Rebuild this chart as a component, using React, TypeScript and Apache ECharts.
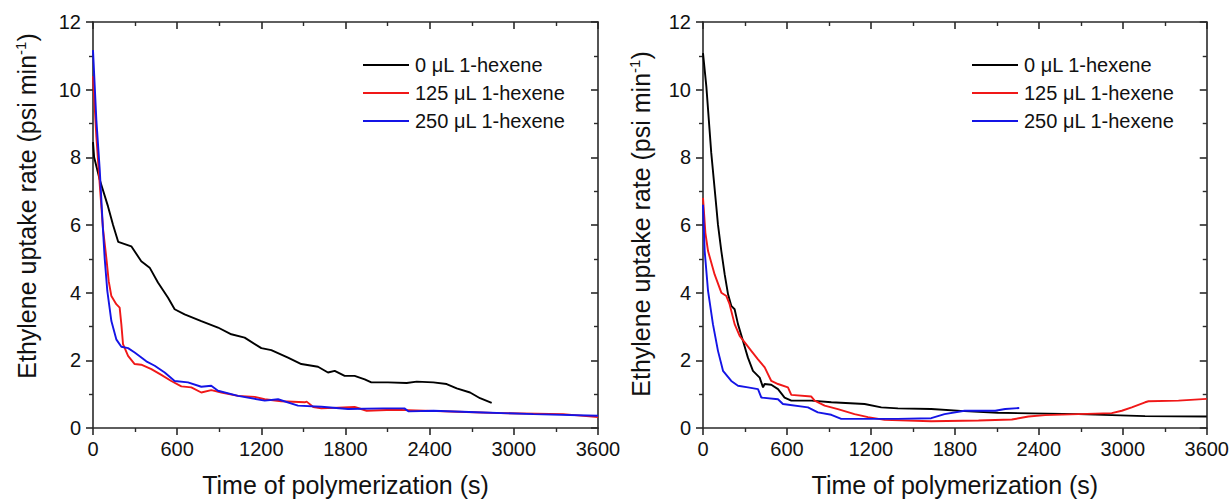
import React, { useEffect, useRef } from "react";
import * as echarts from "echarts";

const xTicks = [0, 600, 1200, 1800, 2400, 3000, 3600];
const yTicks = [0, 2, 4, 6, 8, 10, 12];
const seriesNames = ["0 μL 1-hexene", "125 μL 1-hexene", "250 μL 1-hexene"];
const seriesColors = ["#000000", "#f01818", "#1414e6"];
const xTitle = "Time of polymerization (s)";
const yTitleMain = "Ethylene uptake rate (psi min";
const yTitleSup = "-1";

const leftBlack = [
  [0, 8.45], [8, 8.0], [48, 7.34], [107, 6.55], [143, 6.0], [180, 5.5], [273, 5.37],
  [344, 4.93], [404, 4.74], [463, 4.3], [535, 3.85], [582, 3.51], [653, 3.36], [772, 3.16],
  [891, 2.97], [986, 2.77], [1081, 2.67], [1200, 2.36], [1271, 2.3], [1390, 2.08],
  [1485, 1.89], [1604, 1.81], [1675, 1.64], [1723, 1.69], [1794, 1.54], [1865, 1.54],
  [1937, 1.44], [1984, 1.35], [2103, 1.35], [2236, 1.33], [2308, 1.37], [2426, 1.35],
  [2521, 1.3], [2593, 1.17], [2688, 1.05], [2759, 0.88], [2842, 0.74],
];
const leftRed = [
  [0, 10.4], [24, 8.6], [48, 7.2], [71, 5.9], [95, 5.03], [112, 4.34], [131, 3.9],
  [166, 3.66], [190, 3.56], [202, 3.07], [214, 2.48], [250, 2.13], [297, 1.89], [344, 1.87],
  [416, 1.74], [487, 1.57], [558, 1.39], [630, 1.23], [701, 1.2], [772, 1.05], [843, 1.12],
  [915, 1.05], [1034, 0.95], [1153, 0.92], [1224, 0.85], [1342, 0.79], [1509, 0.76],
  [1523, 0.78], [1570, 0.62], [1628, 0.58], [1865, 0.62], [1951, 0.51], [2141, 0.54],
  [2300, 0.52], [2600, 0.48], [2902, 0.44], [3351, 0.41], [3600, 0.32],
];
const leftBlue = [
  [0, 11.17], [24, 9.1], [48, 7.64], [71, 5.87], [83, 5.03], [102, 4.05], [131, 3.16],
  [166, 2.62], [202, 2.4], [250, 2.36], [297, 2.23], [340, 2.1], [380, 1.97], [440, 1.84],
  [511, 1.64], [582, 1.39], [677, 1.35], [772, 1.22], [843, 1.25], [891, 1.1], [1034, 0.95],
  [1224, 0.81], [1319, 0.85], [1461, 0.66], [1628, 0.63], [1818, 0.56], [2070, 0.58],
  [2220, 0.58], [2250, 0.49], [2426, 0.51], [2783, 0.46], [3140, 0.41], [3600, 0.36],
];
const rightBlack = [
  [0, 11.08], [24, 10.09], [59, 8.13], [95, 6.55], [107, 6.01], [131, 5.23], [155, 4.54],
  [179, 3.95], [202, 3.61], [226, 3.51], [250, 3.07], [286, 2.57], [321, 2.08], [357, 1.69],
  [405, 1.49], [429, 1.2], [440, 1.3], [488, 1.28], [536, 1.15], [583, 0.9], [631, 0.81],
  [774, 0.81], [917, 0.76], [1155, 0.71], [1274, 0.61], [1393, 0.58], [1631, 0.56],
  [1869, 0.5], [2107, 0.45], [2683, 0.41], [3159, 0.35], [3600, 0.34],
];
const rightRed = [
  [0, 6.8], [17, 5.77], [36, 5.23], [83, 4.54], [131, 4.0], [167, 3.9], [190, 3.66],
  [226, 3.07], [262, 2.72], [298, 2.53], [345, 2.28], [393, 2.03], [441, 1.79], [488, 1.39],
  [536, 1.3], [607, 1.2], [631, 0.98], [774, 0.93], [798, 0.81], [869, 0.66], [964, 0.56],
  [1083, 0.41], [1179, 0.32], [1298, 0.24], [1631, 0.2], [1969, 0.22], [2207, 0.25],
  [2326, 0.34], [2445, 0.38], [2683, 0.41], [2921, 0.44], [2993, 0.51], [3064, 0.61],
  [3159, 0.76], [3184, 0.79], [3398, 0.81], [3600, 0.86],
];
const rightBlue = [
  [0, 6.6], [5, 6.0], [12, 5.23], [36, 4.05], [71, 3.07], [107, 2.28], [143, 1.69],
  [202, 1.39], [250, 1.25], [321, 1.2], [393, 1.15], [417, 0.9], [536, 0.85], [571, 0.71],
  [750, 0.61], [821, 0.46], [917, 0.39], [988, 0.27], [1393, 0.27], [1631, 0.29],
  [1726, 0.41], [1869, 0.51], [2088, 0.51], [2160, 0.56], [2260, 0.59],
];

const FONT = "'Liberation Sans', Arial, sans-serif";
const AXIS_COLOR = "#2a2a2a";
const TEXT_COLOR = "#111111";

function axisLine() {
  return { show: true, onZero: false, lineStyle: { color: AXIS_COLOR, width: 1.6 } };
}

function makeX(gridIndex: number, main: boolean) {
  const iv = xTicks[1] - xTicks[0];
  return {
    gridIndex,
    type: "value",
    position: main ? "bottom" : "top",
    min: xTicks[0],
    max: xTicks[xTicks.length - 1],
    interval: iv,
    name: main ? xTitle : "",
    nameLocation: "middle",
    nameGap: 44,
    nameTextStyle: { fontSize: 25, fontFamily: FONT, color: TEXT_COLOR },
    axisLine: axisLine(),
    axisTick: { show: true, inside: !main, length: 7, lineStyle: { color: AXIS_COLOR, width: 1.6 } },
    minorTick: { show: true, splitNumber: 2, length: 4, lineStyle: { color: AXIS_COLOR, width: 1.4 } },
    axisLabel: {
      show: main,
      fontSize: 20,
      margin: 11,
      fontFamily: FONT,
      color: TEXT_COLOR,
      formatter: (v: number) => String(v),
    },
    splitLine: { show: false },
  };
}

function makeY(gridIndex: number, main: boolean) {
  const iv = yTicks[1] - yTicks[0];
  return {
    gridIndex,
    type: "value",
    position: main ? "left" : "right",
    min: yTicks[0],
    max: yTicks[yTicks.length - 1],
    interval: iv,
    axisLine: axisLine(),
    axisTick: { show: true, inside: !main, length: 7, lineStyle: { color: AXIS_COLOR, width: 1.6 } },
    minorTick: { show: true, splitNumber: 2, length: 4, lineStyle: { color: AXIS_COLOR, width: 1.4 } },
    axisLabel: {
      show: main,
      fontSize: 20,
      margin: 12,
      fontFamily: FONT,
      color: TEXT_COLOR,
      formatter: (v: number) => String(v),
    },
    splitLine: { show: false },
  };
}

function makeSeries(data: number[][], idx: number, panel: number) {
  return {
    type: "line",
    name: seriesNames[idx],
    data,
    xAxisIndex: panel * 2,
    yAxisIndex: panel * 2,
    symbol: "none",
    showSymbol: false,
    smooth: false,
    z: 3 + idx,
    lineStyle: { color: seriesColors[idx], width: 1.9 },
    itemStyle: { color: seriesColors[idx] },
  };
}

function makeLegend(left: number) {
  return {
    data: seriesNames.map((n) => ({ name: n, icon: "rect" })),
    orient: "vertical",
    left,
    top: 50,
    itemWidth: 46,
    itemHeight: 2,
    itemGap: 8,
    selectedMode: false,
    textStyle: {
      fontSize: 20,
      lineHeight: 20,
      fontFamily: FONT,
      color: TEXT_COLOR,
      padding: [0, 0, 0, 1],
    },
  };
}

function yTitle(cx: number, cy: number) {
  return {
    type: "text",
    x: cx,
    y: cy,
    rotation: Math.PI / 2,
    style: {
      text: `{a|${yTitleMain}}{s|${yTitleSup}}{a|)}`,
      align: "center",
      verticalAlign: "middle",
      fill: TEXT_COLOR,
      rich: {
        a: { fontSize: 25, fontFamily: FONT, fill: TEXT_COLOR, lineHeight: 28, color: TEXT_COLOR },
        s: { fontSize: 15, fontFamily: FONT, fill: TEXT_COLOR, color: TEXT_COLOR, verticalAlign: "top", lineHeight: 16 },
      },
    },
  };
}

export default function App() {
  const ref = useRef<HTMLDivElement>(null);
  useEffect(() => {
    if (!ref.current) return;
    const chart = echarts.init(ref.current, undefined, { renderer: "svg" });
    chart.setOption({
      animation: false,
      backgroundColor: "#ffffff",
      grid: [
        { left: 93, top: 22, width: 505, height: 407 },
        { left: 703, top: 22, width: 504, height: 407 },
      ],
      legend: [makeLegend(358), makeLegend(967)],
      xAxis: [makeX(0, true), makeX(0, false), makeX(1, true), makeX(1, false)],
      yAxis: [makeY(0, true), makeY(0, false), makeY(1, true), makeY(1, false)],
      graphic: [yTitle(27, 206), yTitle(641, 224)],
      series: [
        makeSeries(leftBlack, 0, 0),
        makeSeries(leftRed, 1, 0),
        makeSeries(leftBlue, 2, 0),
        makeSeries(rightBlack, 0, 1),
        makeSeries(rightRed, 1, 1),
        makeSeries(rightBlue, 2, 1),
      ],
    });
    return () => chart.dispose();
  }, []);
  return (
    <div
      ref={ref}
      style={{ position: "absolute", left: 0, top: 0, width: 1232, height: 502, background: "#fff" }}
    />
  );
}
